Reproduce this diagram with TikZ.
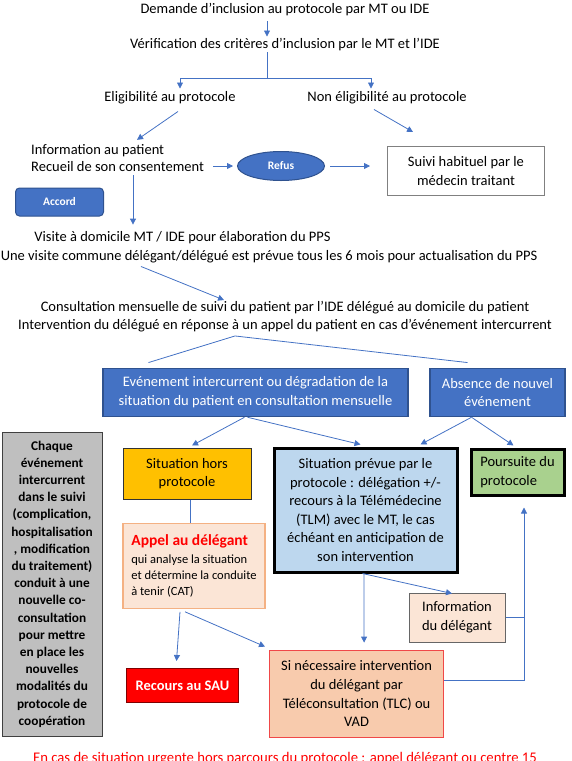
\documentclass[tikz,border=0pt]{standalone}
\usepackage{fontspec}
\setmainfont{Carlito}
\usepackage{tikz}
\usetikzlibrary{arrows.meta,shapes.geometric}

\definecolor{flowblue}{HTML}{4472C4}
\definecolor{flowblueline}{HTML}{2F528F}
\definecolor{horsyellow}{HTML}{FFC000}
\definecolor{peachlight}{HTML}{FBE5D6}
\definecolor{peach}{HTML}{F8CBAD}
\definecolor{peachline}{HTML}{F4B183}
\definecolor{sinecline}{HTML}{F04848}
\definecolor{prevueblue}{HTML}{BDD7EE}
\definecolor{suitegreen}{HTML}{A9D18E}
\definecolor{notegray}{HTML}{BFBFBF}
\definecolor{saured}{HTML}{FF0000}

\tikzset{
	txt/.style={inner sep=1pt, align=center, font=\fontsize{14.5}{17.8}\selectfont},
	arr/.style={draw=flowblue, line width=0.8pt, -{Triangle[length=6pt,width=6pt]}},
	link/.style={draw=flowblue, line width=0.8pt},
	flowbox/.style={rectangle, draw, line width=1pt, inner sep=0pt, align=center, font=\fontsize{14.5}{18.6}\selectfont},
	bluebox/.style={flowbox, fill=flowblue, draw=flowblueline, line width=1.2pt, text=white},
	smallblue/.style={fill=flowblue, draw=flowblueline, line width=1pt, inner sep=0pt, text=white, font=\fontsize{11.5}{13}\selectfont\bfseries},
	thickbox/.style={flowbox, draw=black, line width=3pt},
}

\begin{document}
\begin{tikzpicture}[x=1pt,y=-1pt]
	\useasboundingbox (0,0) rectangle (572,761);
	\node[txt] (demande) at (285,10) {Demande d’inclusion au protocole par MT ou IDE};
	\node[txt] (verif) at (285,45) {Vérification des critères d’inclusion par le MT et l’IDE};
	\node[txt] (elig) at (170,98) {Eligibilité au protocole};
	\node[txt] (nonelig) at (387,98) {Non éligibilité au protocole};
	\node[txt, align=left, anchor=west] (info) at (30,158) {Information au patient\\Recueil de son consentement};
	\node[smallblue, ellipse, minimum width=87pt, minimum height=29pt] (refus) at (281,166) {Refus};
	\node[flowbox, draw=black!50, minimum width=157pt, minimum height=49pt] (suivi) at (466,171) {Suivi habituel par le\\médecin traitant};
	\node[smallblue, rectangle, rounded corners=4pt, minimum width=88pt, minimum height=28pt] (accord) at (59.5,202) {Accord};
	\node[txt] (visite) at (182.5,238) {Visite à domicile MT / IDE pour élaboration du PPS};
	\node[txt] (commune) at (269,257) {Une visite commune délégant/délégué est prévue tous les 6 mois pour actualisation du PPS};
	\node[txt] (consult) at (285,316.5) {Consultation mensuelle de suivi du patient par l’IDE délégué au domicile du patient\\Intervention du délégué en réponse à un appel du patient en cas d’événement intercurrent};

	\node[bluebox, minimum width=305pt, minimum height=48.5pt] (event) at (255.5,392.4) {Evénement intercurrent ou dégradation de la\\situation du patient en consultation mensuelle};
	\node[bluebox, minimum width=135pt, minimum height=48.5pt] (absence) at (497.5,392.4) {Absence de nouvel\\événement};

	\node[flowbox, fill=notegray, draw=black!75, minimum width=100pt, minimum height=304pt, font=\fontsize{13.3}{17.2}\selectfont\bfseries] (note) at (52,584) {Chaque\\événement\\intercurrent\\dans le suivi\\(complication,\\hospitalisation\\, modification\\du traitement)\\conduit à une\\nouvelle co-\\consultation\\pour mettre\\en place les\\nouvelles\\modalités du\\protocole de\\coopération};
	\node[flowbox, fill=horsyellow, draw=black!80, minimum width=128pt, minimum height=51pt] (hors) at (187,473.5) {Situation hors\\protocole};
	\node[flowbox, fill=peachlight, draw=peachline, line width=1.2pt, align=left, minimum width=142pt, minimum height=85pt, font=\fontsize{12.5}{16}\selectfont] (appel) at (194,565.7) {\textcolor{saured}{\fontsize{15.5}{18}\selectfont\bfseries Appel au délégant}\\[2pt]qui analyse la situation\\et détermine la conduite\\à tenir (CAT)};
	\node[thickbox, fill=prevueblue, minimum width=183pt, minimum height=124pt] (prevue) at (365.5,510) {Situation prévue par le\\protocole : délégation +/-\\recours à la Télémédecine\\(TLM) avec le MT, le cas\\échéant en anticipation de\\son intervention};
	\node[thickbox, fill=suitegreen, align=left, minimum width=93pt, minimum height=46pt] (poursuite) at (517.5,472) {Poursuite du\\protocole};
	\node[flowbox, fill=peachlight, draw=black!60, minimum width=96pt, minimum height=49pt] (infodel) at (457,617.5) {Information\\du délégant};
	\node[flowbox, fill=saured, draw=red!50!black, minimum width=112pt, minimum height=34pt, text=white, font=\fontsize{14.5}{17}\selectfont\bfseries] (recours) at (182.5,685.5) {Recours au SAU};
	\node[flowbox, fill=peach, draw=sinecline, line width=1.2pt, minimum width=174pt, minimum height=87pt] (sinec) at (356.6,693.7) {Si nécessaire intervention\\du délégant par\\Téléconsultation (TLC) ou\\VAD};
	\node[txt, text=saured, anchor=base, font=\fontsize{14.7}{18}\selectfont] (urgence) at (285,762) {En cas de situation urgente hors parcours du protocole : appel délégant ou centre 15};

	\draw[arr, shorten <=4pt, shorten >=1pt] ([xshift=-18pt]demande.south) -- ([xshift=-18pt]verif.north);
	\coordinate (split) at (267,78);
	\draw[link] ([xshift=-18pt]verif.south) -- (split);
	\draw[arr] (split) -| ([xshift=10pt,yshift=2pt]elig.north);
	\draw[arr] (split) -| ([xshift=-16pt,yshift=2pt]nonelig.north);
	\draw[arr] ([xshift=8pt,yshift=-6pt]elig.south) -- ([xshift=107pt,yshift=3pt]info.north west);
	\draw[arr] ([xshift=-13pt,yshift=-4pt]nonelig.south) -- ([xshift=-53pt,yshift=14pt]suivi.north);
	\draw[arr, shorten <=8pt, shorten >=4pt] (info.east |- refus.west) -- (refus.west);
	\draw[arr, shorten <=5pt, shorten >=17pt] (refus.east) -- (refus.east -| suivi.west);
	\draw[arr, shorten >=6pt] ([xshift=103pt,yshift=-2pt]info.south west) -- ([xshift=103pt]info.south west |- visite.north);
	\draw[arr] ([xshift=-128pt,yshift=-2pt]commune.south) -- ([xshift=-61pt]consult.north);
	\draw[link] ([xshift=-107pt,yshift=5pt]event.north) -- ([xshift=-50pt,yshift=-3pt]consult.south) -- ([xshift=-30pt,yshift=5pt]absence.north);

	\draw[arr] ([xshift=-11pt]event.south) -- ([xshift=5pt,yshift=2pt]hors.north);
	\draw[arr] ([xshift=-8pt]event.south) -- ([xshift=-5pt,yshift=2pt]prevue.north);
	\draw[arr] ([xshift=-26pt]absence.south) -- ([xshift=55pt,yshift=2pt]prevue.north);
	\draw[arr] ([xshift=-26pt]absence.south) -- ([xshift=-4pt,yshift=2pt]poursuite.north);
	\draw[link] ([xshift=3pt]hors.south) -- ([xshift=-4pt]appel.north);
	\draw[arr] ([xshift=-14pt,yshift=-3pt]appel.south) -- ([xshift=-6pt,yshift=7pt]recours.north);
	\draw[arr] ([xshift=-9pt,yshift=-3pt]appel.south) -- ([xshift=-4pt,yshift=3pt]sinec.north west);
	\draw[arr] ([xshift=-1.5pt]prevue.south) -- ([xshift=7.5pt,yshift=7pt]sinec.north);
	\draw[arr] ([xshift=-3pt]prevue.south) -- ([xshift=-5pt,yshift=-1pt]infodel.north);
	\coordinate (rail) at ([xshift=6.5pt,yshift=-11pt]poursuite.south);
	\draw[arr] ([yshift=13pt]sinec.east) -| (rail);
	\draw[link] (infodel.east) -- (infodel.east -| rail);
\end{tikzpicture}
\end{document}
